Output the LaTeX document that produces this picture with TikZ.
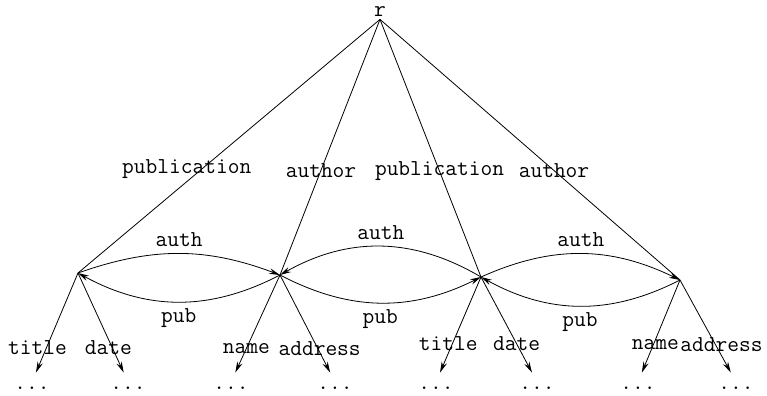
\documentclass[tikz,border=0pt]{standalone}
\usepackage{fontspec}
\usepackage{tikz}
\usetikzlibrary{arrows.meta}

\begin{document}
\begin{tikzpicture}[x=0.5pt,y=-0.5pt,font=\ttfamily\fontsize{11.4}{13}\selectfont,
  tip/.style={-{Stealth[length=5.5pt,width=2.8pt]}},
  leaf/.style={anchor=base,inner sep=1pt,text height=7pt,text depth=0pt},
  lab/.style={inner sep=1pt}]
\useasboundingbox (0,0) rectangle (767,396);
\node[inner sep=1pt] (r) at (380,12) {r};
\coordinate (pubA)  at (78,273);
\coordinate (authA) at (280,275);
\coordinate (pubB)  at (481,277);
\coordinate (authB) at (680,280);
% edges from the root
\draw (r.south) -- node[lab,pos=0.59,xshift=-7.5pt] {publication} (pubA);
\draw (r.south) -- node[lab,pos=0.59] {author} (authA);
\draw (r.south) -- node[lab,pos=0.59] {publication} (pubB);
\draw (r.south) -- node[lab,pos=0.58] {author} (authB);
% references between the objects
\draw[tip] (pubA) to[bend left=20] node[above] {auth} (authA);
\draw[tip] (authA) to[bend left=28] node[below] {pub} (pubA);
\draw[tip] (pubB) to[bend right=30] node[above] {auth} (authA);
\draw[tip] (authA) to[bend right=27] node[below] {pub} (pubB);
\draw[tip] (pubB) to[bend left=25] node[above] {auth} (authB);
\draw[tip] (authB) to[bend left=28] node[below] {pub} (pubB);
% leaves
\node[leaf] (a1) at (32,389)  {...};
\node[leaf] (a2) at (128,389) {...};
\node[leaf] (b1) at (231,389) {...};
\node[leaf] (b2) at (335,389) {...};
\node[leaf] (c1) at (436,389) {...};
\node[leaf] (c2) at (537,389) {...};
\node[leaf] (d1) at (638,389) {...};
\node[leaf] (d2) at (736,389) {...};
\draw[tip] (pubA) -- node[lab,pos=0.75,xshift=-4.5pt] {title} (a1);
\draw[tip] (pubA) -- node[lab,pos=0.75,xshift=-2pt] {date} (a2);
\draw[tip] (authA) -- node[lab,pos=0.75] {name} (b1);
\draw[tip] (authA) -- node[lab,pos=0.75,xshift=1pt] {address} (b2);
\draw[tip] (pubB) -- node[lab,pos=0.7,xshift=-2pt] {title} (c1);
\draw[tip] (pubB) -- node[lab,pos=0.7] {date} (c2);
\draw[tip] (authB) -- node[lab,pos=0.7,xshift=1pt] {name} (d1);
\draw[tip] (authB) -- node[lab,pos=0.7,xshift=3pt] {address} (d2);
\end{tikzpicture}
\end{document}
